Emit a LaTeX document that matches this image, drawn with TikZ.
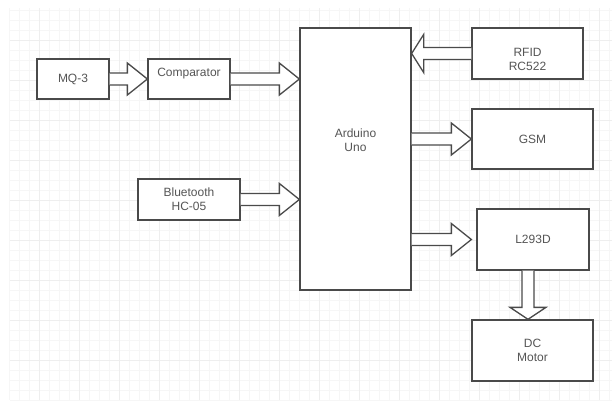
\documentclass[tikz,border=0pt]{standalone}
\usepackage{fontspec}
\setmainfont{Liberation Sans}
\usetikzlibrary{calc}

\definecolor{edgegray}{HTML}{4A4A4A}
\definecolor{labelgray}{HTML}{555555}
\definecolor{gridminor}{HTML}{F6F6F6}
\definecolor{gridmajor}{HTML}{EEEEEE}

\tikzset{
  block/.style={draw=edgegray, line width=1.3pt, fill=white, text=labelgray,
    align=center, inner sep=0pt, font=\fontsize{12}{14}\selectfont},
  bus/.style={draw=edgegray, line width=1.3pt, fill=white},
  % hollow block arrow: #1 = head length, #2 = half width of the head
  fat arrow/.style 2 args={
    to path={
      ($(\tikztostart)!6pt!90:(\tikztotarget)$)
      -- ($(\tikztotarget)!#1!(\tikztostart)!6pt!90:(\tikztotarget)$)
      -- ($(\tikztotarget)!#1!(\tikztostart)!#2!90:(\tikztotarget)$)
      -- (\tikztotarget)
      -- ($(\tikztotarget)!#1!(\tikztostart)!#2!-90:(\tikztotarget)$)
      -- ($(\tikztotarget)!#1!(\tikztostart)!6pt!-90:(\tikztotarget)$)
      -- ($(\tikztostart)!6pt!-90:(\tikztotarget)$)
    }},
}

\begin{document}
\begin{tikzpicture}[x=1pt, y=-1pt]

  \useasboundingbox (0,0) rectangle (616,400);

  % === BACKGROUND GRID ===
  \foreach \gx in {9,19,...,609}
    \draw[gridminor, line width=0.6pt] (\gx,8) -- (\gx,400);
  \foreach \gy in {10,20,...,400}
    \draw[gridminor, line width=0.6pt] (10,\gy) -- (612,\gy);
  \foreach \gx in {39,79,...,599}
    \draw[gridmajor, line width=0.8pt] (\gx,8) -- (\gx,400);
  \foreach \gy in {40,80,...,360}
    \draw[gridmajor, line width=0.8pt] (10,\gy) -- (612,\gy);

  % === INPUT SIDE ===
  \node[block, minimum width=72pt, minimum height=40pt] (mq3)
    at (73,79) {MQ-3};
  \node[block, minimum width=82pt, minimum height=40pt, text depth=14pt]
    (comp) at (189,79) {Comparator};
  \node[block, minimum width=102pt, minimum height=41pt] (bt)
    at (189,199.5) {Bluetooth\\HC-05};

  % Controller
  \node[block, minimum width=111pt, minimum height=262pt,
    text height=9pt, text depth=24.4pt] (uno)
    at (355.5,159) {Arduino\\Uno};

  % === OUTPUT SIDE ===
  \node[block, minimum width=111pt, minimum height=51pt,
    text height=34pt, text depth=0pt] (rfid)
    at (527.5,53.5) {RFID\\RC522};
  \node[block, minimum width=121pt, minimum height=60pt] (gsm)
    at (532.5,139) {GSM};
  \node[block, minimum width=112pt, minimum height=61pt] (l293)
    at (533,239.5) {L293D};
  \node[block, minimum width=121pt, minimum height=61pt] (motor)
    at (532.5,350.5) {DC\\Motor};

  % === BLOCK ARROWS ===
  \draw[bus] (mq3.east) to[fat arrow={20pt}{16pt}] (comp.west);
  \draw[bus] (comp.east) to[fat arrow={20pt}{16pt}] (uno.west |- comp.east);
  \draw[bus] (bt.east) to[fat arrow={20pt}{16pt}] (uno.west |- bt.east);
  \draw[bus] (rfid.west) to[fat arrow={12pt}{19pt}] (uno.east |- rfid.west);
  \draw[bus] (uno.east |- gsm.west) to[fat arrow={20pt}{16pt}] (gsm.west);
  \draw[bus] (uno.east |- l293.west)
    to[fat arrow={20pt}{16pt}] ([xshift=-5pt]l293.west);
  \draw[bus] ([xshift=-5pt]l293.south)
    to[fat arrow={12pt}{18pt}] ([xshift=-5pt]l293.south |- motor.north);

\end{tikzpicture}
\end{document}
